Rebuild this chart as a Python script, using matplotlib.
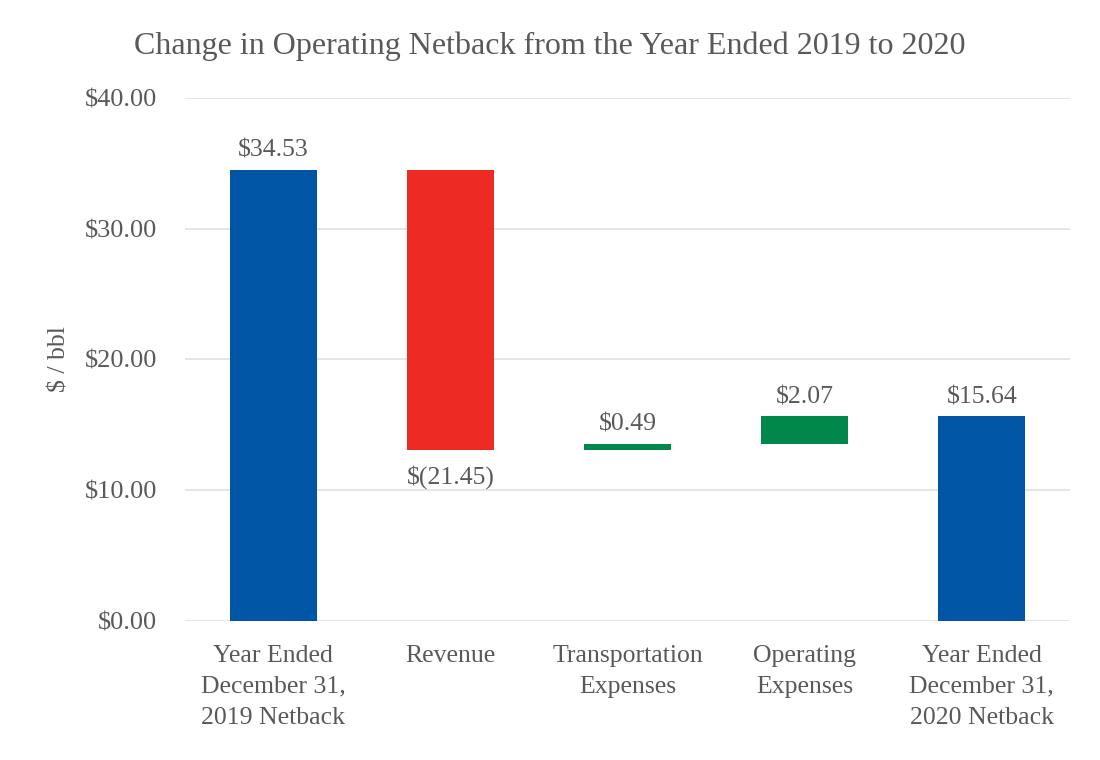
import numpy as np
import matplotlib
matplotlib.use('Agg')
import matplotlib.pyplot as plt

categories = ['Year Ended\nDecember 31,\n2019 Netback', 'Revenue', 'Transportation\nExpenses',
              'Operating\nExpenses', 'Year Ended\nDecember 31,\n2020 Netback']
changes = [34.53, -21.45, 0.49, 2.07, 15.64]
is_total = [True, False, False, False, True]
labels = ['$34.53', '$(21.45)', '$0.49', '$2.07', '$15.64']
yticks = [0, 10, 20, 30, 40]

blue = '#0055a4'
red = '#ee2a24'
green = '#00884a'
grey = '#595959'

plt.rcParams['font.family'] = ['Liberation Serif', 'DejaVu Serif']

fig = plt.figure(figsize=(11, 7.6), dpi=100)
ax = fig.add_axes([0.168, 0.183, 0.805, 0.688])

# compute waterfall bottoms
bottoms = []
heights = []
colors = []
running = 0.0
for v, tot in zip(changes, is_total):
    if tot:
        bottoms.append(0)
        heights.append(v)
        colors.append(blue)
        running = v
    else:
        if v < 0:
            bottoms.append(running + v)
            heights.append(-v)
            colors.append(red)
        else:
            bottoms.append(running)
            heights.append(v)
            colors.append(green)
        running += v

x = np.arange(len(categories))
ax.bar(x, heights, bottom=bottoms, width=0.49, color=colors, zorder=3)

for i, (b, h, lab) in enumerate(zip(bottoms, heights, labels)):
    if changes[i] < 0:
        ax.annotate(lab, (x[i], b), xytext=(0, -11), textcoords='offset points',
                    ha='center', va='top', fontsize=18.5, color=grey)
    else:
        ax.annotate(lab, (x[i], b + h), xytext=(0, 6), textcoords='offset points',
                    ha='center', va='bottom', fontsize=18.5, color=grey)

ax.set_xlim(-0.5, len(categories) - 0.5)
ax.set_ylim(0, 40)
ax.set_yticks(yticks)
ax.set_yticklabels(['${:.2f}'.format(t) for t in yticks], fontsize=19)
ax.set_xticks(x)
ax.set_xticklabels(categories, fontsize=18.5, linespacing=1.55)
ax.tick_params(axis='both', length=0, labelcolor=grey)
ax.tick_params(axis='x', pad=17)
ax.tick_params(axis='y', pad=20)
for t in ax.get_yticklabels():
    t.set_va('center_baseline')
ax.grid(axis='y', color='#e3e3e3', linewidth=1.3, zorder=0)
for s in ax.spines.values():
    s.set_visible(False)
ax.set_ylabel('$ / bbl', fontsize=18.5, color=grey, labelpad=10)
fig.text(0.5, 1 - 46 / 760, 'Change in Operating Netback from the Year Ended 2019 to 2020',
         fontsize=23, color=grey, ha='center', va='center')

fig.savefig('out.png', dpi=100)
